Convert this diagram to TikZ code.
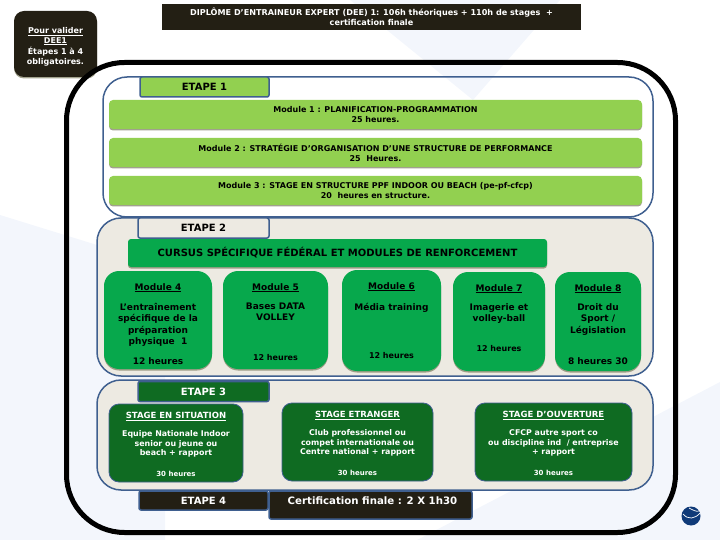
\documentclass[tikz,border=0pt]{standalone}
\usepackage{fontspec}
\setmainfont{DejaVu Sans}
\usetikzlibrary{positioning,calc,shadows}
\definecolor{frameBlue}{HTML}{3F5F8F}
\definecolor{paleBack}{HTML}{F3F6FC}
\definecolor{sandBack}{HTML}{EDEAE2}
\definecolor{limeBox}{HTML}{92D050}
\definecolor{midGreen}{HTML}{07A84C}
\definecolor{darkGreen}{HTML}{0F6B22}
\definecolor{nearBlack}{HTML}{231F14}
\definecolor{logoBlue}{HTML}{0F3A78}
\definecolor{shadowTone}{HTML}{8A8A70}
\def\borderW{1.5pt}
\newcommand{\fsize}[1]{\fontsize{#1}{#1}\bfseries\selectfont}
\tikzset
{
  Block/.style=
  {
    inner sep=0pt,
    align=center,
    font=\fsize{8},
  },
  Soft/.style=
  {
    drop shadow={shadow xshift=0pt,shadow yshift=-1.5pt,fill=shadowTone,opacity=.8},
  },
  Container/.style=
  {
    Block,
    draw=frameBlue,
    line width=\borderW,
    rounded corners=24pt,
  },
  Tab/.style=
  {
    Block,
    draw=frameBlue,
    line width=\borderW,
    rounded corners=2pt,
    font=\fsize{10},
  },
  Bar/.style={Block,Soft,fill=limeBox,rounded corners=4pt,execute at begin node=\rule{0pt}{8pt}},
  Module/.style={Block,Soft,fill=midGreen,rounded corners=15pt},
  ModuleText/.style={Block,font=\fsize{9}},
  Stage/.style=
  {
    Block,
    fill=darkGreen,
    draw=frameBlue,
    line width=.8pt,
    rounded corners=10pt,
  },
  StageText/.style={Block,text=white,font=\fsize{7.9}},
}

\begin{document}
\begin{tikzpicture}
[
  x=1pt,
  y=-1pt,
]
  \useasboundingbox (0,0) rectangle (720,540);

  % pale shapes of the slide behind everything
  \fill [paleBack] (350,0) -- (560,0) -- (473,100) -- cycle;
  \fill [paleBack] (0,215) -- (165,266) -- (165,540) -- (0,540) -- cycle;
  \fill [paleBack] (417,540) -- (720,382) -- (720,540) -- cycle;

  \node (title) [Block,fill=nearBlack,text=white,minimum width=419,minimum height=26,font=\fsize{8.1}]
    at (371.5,17)
    {DIPLÔME D’ENTRAINEUR EXPERT (DEE) 1: 106h théoriques + 110h de stages~~+\\[2pt]certification finale};
  \node (rules) [Block,Soft,fill=nearBlack,text=white,minimum width=83,minimum height=66,rounded corners=10pt,font=\fsize{8}]
    at (55.5,44)
    {\rule{0pt}{12pt}\underline{Pour valider}\\[1.3pt]\underline{DEE1}\\[1.3pt]Étapes 1 à 4\\[1.3pt]obligatoires.};

  \node (frame) [draw,line width=5pt,rounded corners=58pt,minimum width=609,minimum height=470]
    at (371,297.5) {};

  % etape 1
  \node (step1) [Container,minimum width=550,minimum height=140] at (378,147) {};
  \node (tab1) [Tab,fill=limeBox,minimum width=129,minimum height=20] at (204.5,87) {ETAPE 1};
  \node (mod1) [Bar,minimum width=533,minimum height=29] at (375.5,114.5)
    {Module 1 : PLANIFICATION-PROGRAMMATION\\[2pt]25 heures.};
  \node (mod2) [Bar,minimum width=533,minimum height=29] at (375.5,152.5)
    {Module 2 : STRATÉGIE D’ORGANISATION D’UNE STRUCTURE DE PERFORMANCE\\[2pt]25~~Heures.};
  \node (mod3) [Bar,minimum width=533,minimum height=29] at (375.5,190.5)
    {Module 3 : STAGE EN STRUCTURE PPF INDOOR OU BEACH (pe-pf-cfcp)\\[2pt]20~~heures en structure.};

  % etape 2
  \node (step2) [Container,fill=sandBack,minimum width=556,minimum height=158] at (375,297) {};
  \node (tab2) [Tab,fill=sandBack,minimum width=131,minimum height=20] at (203.5,228) {ETAPE 2};
  \node (cursus) [Block,Soft,fill=midGreen,rounded corners=3pt,minimum width=419,minimum height=28,font=\fsize{10}]
    at (337.5,253) {CURSUS SPÉCIFIQUE FÉDÉRAL ET MODULES DE RENFORCEMENT};

  \foreach \id/\xa/\xb/\ya/\yb/\bodyY/\hourY/\hourSize/\body/\hours in
  {
    4/104/212/271/369/303/361/9/{L’entraînement\\[2pt]spécifique de la\\[2pt]préparation\\[2pt]physique~~1}/12 heures,
    5/223/328/271/369/303/358/8/{Bases DATA\\[2pt]VOLLEY}/12 heures,
    6/342/441/270/371/303/356/8/{Média training}/12 heures,
    7/453/545/272/371/303/349/8/{Imagerie et\\[2pt]volley-ball}/12 heures,
    8/555/641/272/371/303/361/9/{Droit du\\[2pt]Sport /\\[2pt]Législation}/8 heures 30%
  }
  {
    \node (m\id) [Module,minimum width=\xb-\xa,minimum height=\yb-\ya] at ({(\xa+\xb)/2},{(\ya+\yb)/2}) {};
    \node (m\id title) [Block,font=\fsize{9}] at ($(m\id.north)+(0,17)$) {\underline{Module \id}};
    \node (m\id body) [ModuleText,anchor=north] at ({(\xa+\xb)/2},\bodyY) {\body};
    \node (m\id hours) [Block,font=\fsize{\hourSize}] at ({(\xa+\xb)/2},\hourY) {\hours};
  }

  % etape 3
  \node (step3) [Container,fill=sandBack,minimum width=556,minimum height=110] at (375,435) {};
  \node (tab3) [Tab,fill=darkGreen,text=white,minimum width=131,minimum height=20] at (203.5,391.5) {ETAPE 3};

  \foreach \id/\xa/\xb/\ya/\yb/\head/\body in
  {
    1/109/243/404/482/{STAGE EN SITUATION}/{Equipe Nationale Indoor\\[1.6pt]senior ou jeune ou\\[1.6pt]beach + rapport},
    2/282/433/403/481/{STAGE ETRANGER}/{Club professionnel ou\\[1.6pt]compet internationale ou\\[1.6pt]Centre national + rapport},
    3/475/632/403/481/{STAGE D’OUVERTURE}/{CFCP autre sport co\\[1.6pt]ou discipline ind~~/ entreprise\\[1.6pt]+ rapport}%
  }
  {
    \node (s\id) [Stage,minimum width=\xb-\xa,minimum height=\yb-\ya] at ({(\xa+\xb)/2},{(\ya+\yb)/2}) {};
    \node (s\id title) [StageText,font=\fsize{8.5}] at ($(s\id.north)+(0,13)$) {\underline{\head}};
    \node (s\id body) [StageText,anchor=north] at ($(s\id.north)+(0,27)$) {\body};
    \node (s\id hours) [StageText,font=\fsize{7}] at ($(s\id.south)+(0,-8.5)$) {30 heures};
  }

  % etape 4
  \node (tab4) [Tab,fill=nearBlack,text=white,minimum width=129,minimum height=19] at (203.5,500.5) {ETAPE 4};
  \node (final) [Tab,fill=nearBlack,text=white,minimum width=203,minimum height=28,text depth=8pt,font=\fsize{10.2}]
    at (370.5,505) {\hspace*{4pt}Certification finale : 2 X 1h30};

  \node (logo) [circle,fill=logoBlue,minimum size=19,inner sep=0pt] at (691,516) {};
  \draw [white,line width=.7pt] (683,514) .. controls (688,520) and (695,519) .. (700,513);
  \draw [white,line width=.7pt] (689,508) .. controls (693,510) and (696,512) .. (699,511);
\end{tikzpicture}
\end{document}
